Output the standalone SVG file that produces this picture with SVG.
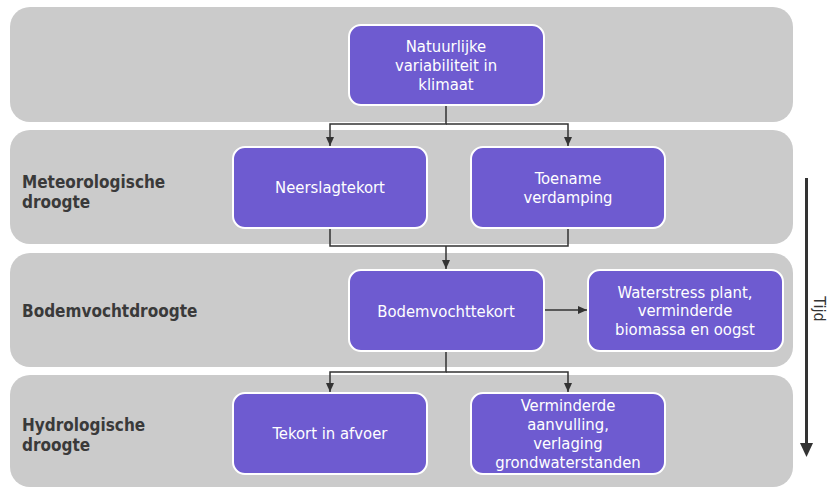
<svg xmlns="http://www.w3.org/2000/svg" width="830" height="490" viewBox="0 0 830 490">
<defs>
<marker id="ah" markerUnits="userSpaceOnUse" markerWidth="9" markerHeight="8" refX="9" refY="4" orient="auto">
<path d="M0,0 L9,4 L0,8 z" fill="#333"/>
</marker>
<style>
.band{fill:#cbcbcb;}
.node{fill:#6e5bd0;stroke:#fff;stroke-width:2;}
.nt{fill:#fff;font-family:"DejaVu Sans Condensed","DejaVu Sans",sans-serif;font-size:16.5px;text-anchor:middle;}
.lbl{fill:#3a3a3a;font-family:"DejaVu Sans Condensed","DejaVu Sans",sans-serif;font-size:17px;font-weight:bold;}
.con{fill:none;stroke:#333;stroke-width:1.5;}
</style>
</defs>
<rect width="830" height="490" fill="#fff"/>
<g id="bands">
<rect class="band" x="10" y="7" width="783" height="115" rx="20"/>
<rect class="band" x="10" y="130" width="783" height="114" rx="20"/>
<rect class="band" x="10" y="253" width="783" height="114" rx="20"/>
<rect class="band" x="10" y="375" width="783" height="112" rx="20"/>
</g>
<g id="labels">
<text class="lbl" x="22" y="188">Meteorologische</text>
<text class="lbl" x="22" y="208">droogte</text>
<text class="lbl" x="22" y="317">Bodemvochtdroogte</text>
<text class="lbl" x="22" y="431">Hydrologische</text>
<text class="lbl" x="22" y="451">droogte</text>
</g>
<g id="connectors">
<path class="con" d="M446,105 V124 H330 V146" marker-end="url(#ah)"/>
<path class="con" d="M446,124 H568 V146" marker-end="url(#ah)"/>
<path class="con" d="M330,228 V246 H568 V228"/>
<path class="con" d="M446,246 V269" marker-end="url(#ah)"/>
<path class="con" d="M544,310 H587" marker-end="url(#ah)"/>
<path class="con" d="M446,351 V372 H330 V392" marker-end="url(#ah)"/>
<path class="con" d="M446,372 H568 V392" marker-end="url(#ah)"/>
</g>
<g id="n-natuur">
<rect class="node" x="349" y="25" width="195" height="80" rx="12"/>
<text class="nt" x="446" y="52">Natuurlijke</text>
<text class="nt" x="446" y="71">variabiliteit in</text>
<text class="nt" x="446" y="90">klimaat</text>
</g>
<g id="n-neerslag">
<rect class="node" x="233" y="147" width="194" height="81" rx="12"/>
<text class="nt" x="330" y="193">Neerslagtekort</text>
</g>
<g id="n-toename">
<rect class="node" x="471" y="147" width="194" height="81" rx="12"/>
<text class="nt" x="568" y="184">Toename</text>
<text class="nt" x="568" y="203">verdamping</text>
</g>
<g id="n-bodem">
<rect class="node" x="349" y="270" width="195" height="81" rx="12"/>
<text class="nt" x="446" y="317">Bodemvochttekort</text>
</g>
<g id="n-waterstress">
<rect class="node" x="588" y="270" width="195" height="81" rx="12"/>
<text class="nt" x="685" y="298">Waterstress plant,</text>
<text class="nt" x="685" y="316">verminderde</text>
<text class="nt" x="685" y="335">biomassa en oogst</text>
</g>
<g id="n-tekort">
<rect class="node" x="233" y="393" width="194" height="81" rx="12"/>
<text class="nt" x="330" y="439">Tekort in afvoer</text>
</g>
<g id="n-verminderde">
<rect class="node" x="471" y="393" width="194" height="81" rx="12"/>
<text class="nt" x="568" y="411">Verminderde</text>
<text class="nt" x="568" y="430">aanvulling,</text>
<text class="nt" x="568" y="449">verlaging</text>
<text class="nt" x="568" y="468">grondwaterstanden</text>
</g>
<g id="tijd">
<line x1="806.5" y1="178" x2="806.5" y2="444" stroke="#333" stroke-width="3"/>
<polygon points="800,443 813,443 806.5,457" fill="#333"/>
<text x="819" y="309" transform="rotate(90 819 309)" text-anchor="middle" dominant-baseline="central" fill="#333" font-family="DejaVu Sans Condensed, DejaVu Sans, sans-serif" font-size="16">Tijd</text>
</g>
</svg>
